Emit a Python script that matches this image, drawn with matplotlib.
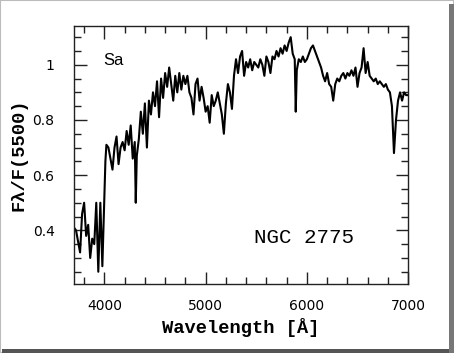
import matplotlib
matplotlib.use("Agg")
import matplotlib.pyplot as plt
from matplotlib.ticker import MultipleLocator
from matplotlib.patches import Rectangle

wavelength = [3700, 3720, 3740, 3760, 3780, 3800, 3820, 3840, 3860, 3880,
              3900, 3920, 3940, 3960, 3980, 4000, 4010, 4020, 4040, 4060,
              4080, 4100, 4120, 4140, 4160, 4180, 4200, 4220, 4240, 4260,
              4280, 4300, 4310, 4320, 4340, 4360, 4380, 4400, 4420, 4440,
              4460, 4480, 4500, 4520, 4540, 4560, 4580, 4600, 4620, 4640,
              4660, 4680, 4700, 4720, 4740, 4760, 4780, 4800, 4820, 4840,
              4860, 4880, 4900, 4920, 4940, 4960, 4980, 5000, 5020, 5040,
              5060, 5080, 5100, 5120, 5140, 5160, 5180, 5200, 5220, 5240,
              5260, 5280, 5300, 5320, 5340, 5360, 5380, 5400, 5420, 5440,
              5460, 5480, 5500, 5520, 5540, 5560, 5580, 5600, 5620, 5640,
              5660, 5680, 5700, 5720, 5740, 5760, 5780, 5800, 5820, 5840,
              5860, 5880, 5890, 5900, 5920, 5940, 5960, 5980, 6000, 6020,
              6040, 6060, 6080, 6100, 6120, 6140, 6160, 6180, 6200, 6220,
              6240, 6260, 6280, 6300, 6320, 6340, 6360, 6380, 6400, 6420,
              6440, 6460, 6480, 6500, 6520, 6540, 6560, 6580, 6600, 6620,
              6640, 6660, 6680, 6700, 6720, 6740, 6760, 6780, 6800, 6820,
              6840, 6860, 6880, 6900, 6920, 6940, 6960, 6980, 7000]

flux = [0.41, 0.40, 0.36, 0.32, 0.46, 0.50, 0.38, 0.42, 0.30, 0.37,
        0.35, 0.50, 0.25, 0.50, 0.27, 0.52, 0.65, 0.71, 0.70, 0.66,
        0.62, 0.70, 0.74, 0.64, 0.70, 0.72, 0.69, 0.76, 0.71, 0.78,
        0.66, 0.72, 0.50, 0.67, 0.73, 0.83, 0.75, 0.86, 0.70, 0.87,
        0.82, 0.90, 0.85, 0.94, 0.81, 0.95, 0.88, 0.97, 0.92, 0.99,
        0.93, 0.87, 0.96, 0.90, 0.97, 0.91, 0.96, 0.93, 0.96, 0.90,
        0.88, 0.82, 0.93, 0.95, 0.87, 0.92, 0.88, 0.83, 0.85, 0.79,
        0.89, 0.85, 0.87, 0.90, 0.86, 0.82, 0.75, 0.86, 0.93, 0.90,
        0.84, 0.96, 1.02, 0.97, 1.03, 1.05, 0.96, 1.01, 0.99, 1.02,
        0.98, 1.01, 1.00, 0.99, 1.02, 1.00, 0.96, 1.03, 1.01, 0.97,
        1.03, 1.02, 1.05, 1.03, 1.06, 1.04, 1.07, 1.05, 1.08, 1.10,
        1.04, 1.02, 0.83, 0.98, 1.02, 1.01, 1.03, 1.01, 1.02, 1.04,
        1.06, 1.07, 1.05, 1.03, 1.01, 0.99, 0.96, 0.94, 0.97, 0.93,
        0.92, 0.87, 0.93, 0.95, 0.94, 0.96, 0.97, 0.95, 0.97, 0.96,
        0.98, 0.96, 0.99, 0.92, 0.97, 0.99, 1.06, 0.97, 1.01, 0.96,
        0.95, 0.94, 0.95, 0.93, 0.94, 0.93, 0.92, 0.93, 0.91, 0.90,
        0.85, 0.68, 0.80, 0.87, 0.90, 0.87, 0.90, 0.89, 0.89]

fig = plt.figure(figsize=(4.54, 3.53), dpi=100)
fig.patch.set_facecolor("white")
ax = fig.add_axes([0.163, 0.195, 0.736, 0.731])

ax.plot(wavelength, flux, color="black", lw=1.5)

ax.set_xlim(3700, 7000)
ax.set_ylim(0.205, 1.14)
ax.xaxis.set_major_locator(MultipleLocator(1000))
ax.xaxis.set_minor_locator(MultipleLocator(200))
ax.yaxis.set_minor_locator(MultipleLocator(0.05))
ax.set_yticks([0.4, 0.6, 0.8, 1.0])
ax.set_yticklabels(["0.4", "0.6", "0.8", "1"])
ax.tick_params(which="both", direction="in", top=True, right=True,
               width=1.0, color="#222222")
ax.tick_params(which="major", length=9, labelsize=10)
ax.tick_params(axis="x", which="major", pad=11)
ax.tick_params(axis="y", which="major", pad=14)
ax.tick_params(which="minor", length=5)
for s in ax.spines.values():
    s.set_linewidth(1.0)
    s.set_color("#222222")

ax.set_xlabel("Wavelength [Å]", family="Liberation Mono", fontweight="bold",
              fontsize=13.5, labelpad=3)
ax.set_ylabel("Fλ/F(5500)", family="Liberation Mono", fontweight="bold",
              fontsize=13.5, labelpad=4)

ax.text(3985, 1.016, "Sa", family="Liberation Sans", fontsize=12,
        va="center", ha="left")
ax.text(5480, 0.375, "NGC 2775", family="Liberation Mono", fontsize=15,
        va="center", ha="left")

# picture frame with shadow
fig.patches.append(Rectangle((0, 0), 1, 1, transform=fig.transFigure,
                             fill=False, edgecolor="#bbbbbb", lw=1.5))
fig.patches.append(Rectangle((0.005, 0.0), 0.995, 0.012, transform=fig.transFigure,
                             facecolor="#555555", edgecolor="none"))
fig.patches.append(Rectangle((0.99, 0.0), 0.01, 0.99, transform=fig.transFigure,
                             facecolor="#777777", edgecolor="none"))

fig.savefig("out.png", dpi=100, facecolor="white")
